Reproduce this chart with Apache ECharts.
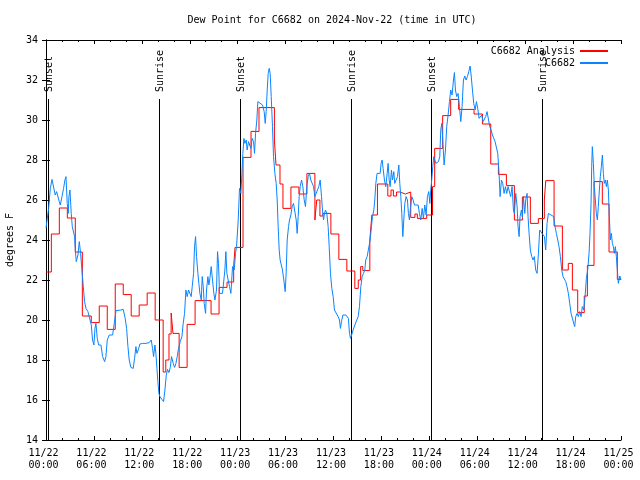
<!DOCTYPE html>
<html><head><meta charset="utf-8">
<script src="https://cdn.jsdelivr.net/npm/echarts@6/dist/echarts.min.js"></script>
<style>html,body{margin:0;padding:0;background:#fff}#c{width:640px;height:480px}</style>
</head><body><div id="c"></div>
<script>
const titleText = 'Dew Point for C6682 on 2024-Nov-22 (time in UTC)';
const yAxisName = 'degrees F';
const xTickLabels = ['11/22\n00:00','11/22\n06:00','11/22\n12:00','11/22\n18:00','11/23\n00:00','11/23\n06:00','11/23\n12:00','11/23\n18:00','11/24\n00:00','11/24\n06:00','11/24\n12:00','11/24\n18:00','11/25\n00:00'];
const seriesNames = ['C6682 Analysis', 'C6682'];
// hours since 11/22 00:00 UTC
const eventHours = [0.2, 14.16, 24.34, 38.21, 48.21, 62.16];
const eventNames = ['Sunset', 'Sunrise', 'Sunset', 'Sunrise', 'Sunset', 'Sunrise'];

const analysisHours = [0,0.67,1.67,2.67,3.67,4.55,5.67,6.67,7.67,8.67,9.67,10.67,11.67,12.67,13.67,14.67,15.0,15.4,15.67,15.9,16.67,17.67,18.67,20.67,21.67,22.67,23.5,23.67,24.67,25.67,26.67,28.6,28.8,29.3,29.67,30.67,31.67,32.67,33.67,33.9,34.3,34.67,35.67,36.67,37.67,38.67,39.1,39.4,39.67,40.55,40.8,41.5,42.8,43.2,43.5,43.9,44.3,45.0,45.67,46.2,46.5,47.67,48.4,48.67,49.67,50.67,51.67,53.6,54.65,55.69,56.65,57.65,58.65,59.65,60.65,61.65,62.4,62.58,63.62,64.66,65.4,65.91,66.58,67.4,67.79,68.62,69.66,70.5,71.54,72];
const analysisValues = [22.4,24.3,25.6,25.1,23.4,20.2,19.87,20.7,19.53,21.8,21.27,20.2,20.75,21.35,20.0,17.4,18.0,19.3,20.35,19.33,17.63,19.78,20.97,20.3,21.63,21.9,22.67,23.63,28.13,29.43,30.62,29.0,27.75,26.8,25.58,26.65,26.3,27.33,25.0,26.0,25.2,25.33,24.3,23.03,22.45,21.58,22.0,22.67,22.47,24.0,25.25,26.8,26.2,26.5,26.2,26.4,26.3,26.4,25.13,25.3,25.08,25.25,26.67,28.58,30.22,31.03,30.53,30.3,29.8,27.8,27.28,26.72,25.0,26.15,24.83,25.07,26.0,26.97,24.7,22.5,22.83,21.5,20.37,21.2,22.73,26.92,25.8,23.4,22.03,22.03];

const obsHours = [0,0.33,0.54,0.75,0.95,1.16,1.33,1.5,1.66,1.79,2.0,2.2,2.37,2.5,2.66,2.79,2.87,3.0,3.16,3.29,3.46,3.58,3.67,3.79,4.0,4.17,4.33,4.5,4.67,4.83,5.0,5.25,5.5,5.67,5.83,6.0,6.13,6.25,6.42,6.59,6.88,7.09,7.34,7.5,7.67,7.92,8.34,8.55,8.76,9.0,9.38,9.67,9.92,10.09,10.26,10.42,10.63,10.92,11.09,11.26,11.38,11.55,11.76,12.09,12.51,12.93,13.18,13.34,13.47,13.64,13.76,13.89,14.01,14.14,14.26,14.51,14.72,14.89,15.06,15.22,15.39,15.56,15.72,15.93,16.1,16.27,16.43,16.6,16.81,17.02,17.18,17.35,17.52,17.68,17.85,18.02,18.18,18.31,18.48,18.6,18.73,18.85,19.02,19.14,19.27,19.44,19.56,19.69,19.81,19.98,20.1,20.27,20.4,20.52,20.69,20.85,21.02,21.15,21.35,21.48,21.6,21.73,22.1,22.27,22.4,22.52,22.65,22.81,22.98,23.15,23.36,23.57,23.73,23.86,24.07,24.23,24.4,24.53,24.65,24.78,24.9,25.07,25.19,25.36,25.48,25.65,25.82,25.99,26.11,26.24,26.4,26.53,26.78,27.11,27.32,27.45,27.57,27.7,27.82,27.95,28.07,28.2,28.36,28.49,28.66,28.82,28.95,29.07,29.2,29.32,29.49,29.61,29.78,29.95,30.07,30.2,30.37,30.49,30.66,30.83,30.99,31.16,31.33,31.45,31.58,31.7,31.83,32.0,32.16,32.33,32.49,32.66,32.83,32.99,33.16,33.33,33.5,33.66,33.83,33.99,34.16,34.33,34.5,34.62,34.75,34.87,35.0,35.16,35.33,35.46,35.62,35.79,35.96,36.12,36.37,36.58,36.75,36.87,37.0,37.17,37.37,37.54,37.71,37.87,38.0,38.13,38.29,38.46,38.67,38.88,39.09,39.25,39.42,39.59,39.75,39.92,40.04,40.21,40.42,40.59,40.75,40.88,41.05,41.17,41.3,41.46,41.59,41.71,41.84,41.96,42.09,42.21,42.38,42.55,42.72,42.84,42.97,43.09,43.26,43.38,43.55,43.67,43.84,44.01,44.18,44.3,44.43,44.55,44.68,44.8,44.93,45.09,45.26,45.38,45.51,45.63,45.8,45.97,46.14,46.39,46.6,46.76,46.93,47.1,47.26,47.43,47.6,47.76,47.93,48.06,48.18,48.3,48.43,48.56,48.68,48.81,48.97,49.14,49.31,49.43,49.56,49.68,49.85,50.02,50.18,50.35,50.52,50.68,50.85,51.02,51.14,51.27,51.43,51.6,51.77,51.94,52.1,52.27,52.44,52.6,52.77,52.94,53.1,53.23,53.4,53.56,53.73,53.9,54.06,54.23,54.4,54.56,54.73,54.9,55.06,55.23,55.4,55.56,55.73,55.9,56.07,56.23,56.4,56.57,56.73,56.86,57.03,57.19,57.36,57.53,57.69,57.86,58.03,58.19,58.36,58.53,58.65,58.82,58.99,59.11,59.24,59.36,59.53,59.65,59.78,59.95,60.07,60.24,60.36,60.49,60.65,60.82,60.99,61.15,61.32,61.49,61.66,61.82,61.99,62.11,62.24,62.41,62.57,62.74,62.91,63.07,63.24,63.41,63.57,63.74,63.91,64.08,64.24,64.41,64.58,64.74,64.91,65.08,65.24,65.41,65.58,65.75,65.91,66.08,66.2,66.33,66.5,66.66,66.83,67.0,67.16,67.33,67.5,67.66,67.83,68.0,68.12,68.25,68.33,68.41,68.54,68.66,68.79,68.91,69.04,69.16,69.29,69.41,69.54,69.67,69.79,69.91,70.04,70.17,70.29,70.42,70.54,70.67,70.79,70.92,71.04,71.17,71.29,71.42,71.54,71.67,71.85,72.0];
const obsValues = [24.6,25.58,26.58,27.03,27.0,26.25,26.42,26.5,25.92,25.75,26.17,26.58,27.0,27.17,25.83,25.33,26.17,26.5,25.33,24.67,24.67,24.17,23.5,22.92,23.25,23.92,23.33,22.5,21.67,20.92,20.58,20.42,20.37,19.75,19.0,18.75,19.58,19.83,19.08,18.75,18.75,18.17,17.92,18.17,19.0,19.25,19.25,19.83,20.47,20.53,20.5,20.53,20.08,19.58,18.67,18.0,17.63,17.58,18.08,18.67,18.33,18.5,18.8,18.83,18.83,18.87,19.0,18.58,18.17,18.75,18.33,17.58,16.92,16.33,16.17,16.03,15.92,16.5,17.25,17.53,17.37,17.63,18.17,17.83,17.63,17.83,18.17,18.58,18.92,19.17,19.83,20.33,21.5,21.17,21.5,21.58,21.17,21.67,22.33,23.67,24.17,23.17,22.33,21.83,21.33,21.0,22.17,21.67,20.83,20.33,21.5,22.17,21.75,22.08,22.67,22.0,21.33,21.0,21.5,23.42,22.83,21.33,21.33,21.33,22.5,23.42,22.33,22.0,21.67,21.33,22.67,22.5,23.33,23.67,25.0,26.58,26.33,27.33,28.33,29.08,28.83,29.0,28.5,28.92,29.0,28.58,29.08,28.92,28.33,29.33,30.0,30.92,30.83,30.75,30.42,29.83,30.42,31.5,32.33,32.58,32.33,31.17,29.67,28.17,27.33,26.83,26.0,24.67,23.5,23.0,23.0,22.5,22.0,21.42,22.33,24.0,24.67,25.0,25.25,25.67,25.83,25.75,25.0,24.33,25.17,26.17,26.67,27.0,26.67,26.0,25.67,26.67,27.17,27.33,27.0,27.0,26.67,26.17,26.33,26.5,26.67,27.0,26.17,25.5,25.0,25.33,25.5,25.33,24.67,23.67,22.33,21.58,21.17,20.5,20.42,20.17,20.0,19.58,19.92,20.25,20.33,20.25,20.33,20.08,19.33,19.08,19.0,19.5,19.75,19.67,20.17,20.67,21.67,22.17,22.33,22.5,23.0,23.17,23.17,24.0,24.67,25.17,25.5,26.0,26.83,27.33,27.42,27.33,27.33,27.83,28.0,27.58,27.0,26.67,27.33,27.83,27.0,26.67,27.5,27.0,27.42,26.83,27.0,27.17,27.75,26.83,26.17,25.33,24.17,25.0,25.83,26.17,26.0,25.33,25.0,25.58,26.17,26.0,25.75,25.75,25.75,25.33,25.0,25.58,25.08,25.75,25.25,26.17,26.42,25.83,26.5,27.0,27.67,28.17,28.08,27.83,27.75,27.92,28.17,29.5,29.83,29.0,27.75,28.5,29.67,30.25,30.92,31.5,31.25,32.0,32.37,31.5,31.17,31.33,30.67,29.92,30.67,32.0,32.2,32.0,32.17,32.42,32.7,32.25,31.5,30.83,30.5,30.92,30.58,30.08,30.17,30.25,29.92,30.0,30.17,30.42,30.5,29.67,29.5,29.25,29.08,28.92,29.0,28.33,27.33,26.17,27.0,26.83,26.33,26.67,26.33,26.67,26.58,26.17,26.67,25.5,25.33,26.33,25.67,24.67,24.17,25.17,25.5,25.17,26.17,25.33,26.0,26.33,25.17,24.33,23.5,23.17,23.0,23.17,22.5,22.33,23.33,24.5,24.5,24.33,24.33,24.17,23.5,24.83,25.33,25.42,25.25,25.33,25.17,24.67,24.33,24.0,23.67,23.17,22.5,22.17,22.08,21.92,21.67,21.33,20.83,20.33,20.42,19.83,19.67,20.17,20.33,20.17,20.42,20.17,20.67,20.5,21.17,22.08,22.5,23.33,24.33,25.83,27.67,28.67,27.83,26.67,26.0,25.33,25.0,25.67,26.5,27.17,27.67,28.25,27.33,26.83,27.0,26.67,27.0,26.5,25.17,24.0,24.33,23.83,23.67,23.33,23.67,23.17,22.5,21.83,22.2,22.0];

const FONT = "'DejaVu Sans Mono', monospace";
const txt = {fontFamily: FONT, fontSize: 10, color: '#000'};
const zip = (a, b) => a.map((v, i) => [v, b[i]]);

const chart = echarts.init(document.getElementById('c'), null, {renderer: 'canvas'});
const xCommon = {
  type: 'value', min: 0, max: 72, interval: 6,
  axisLine: {show: true, lineStyle: {color: '#000', width: 1}},
  axisTick: {show: true, inside: true, length: 4, lineStyle: {color: '#000'}},
  minorTick: {show: true, splitNumber: 3, length: 2, lineStyle: {color: '#000'}},
  splitLine: {show: false}
};
const yCommon = {
  type: 'value', min: 14, max: 34, interval: 2,
  axisLine: {show: true, lineStyle: {color: '#000', width: 1}},
  axisTick: {show: true, inside: true, length: 4, lineStyle: {color: '#000'}},
  splitLine: {show: false}
};
chart.setOption({
  animation: false,
  backgroundColor: '#fff',
  title: {text: titleText, left: 327, top: 10, textAlign: 'center',
    textStyle: Object.assign({}, txt, {fontWeight: 'normal'})},
  legend: {
    data: seriesNames, orient: 'vertical', right: 31, top: 46, align: 'right', padding: 0,
    itemWidth: 28, itemHeight: 10, itemGap: 2, textStyle: txt, selectedMode: false,
    itemStyle: {opacity: 0}
  },
  grid: {left: 46, right: 19, top: 40, bottom: 40, outerBoundsMode: 'none', containLabel: false},
  xAxis: [
    Object.assign({}, xCommon, {position: 'bottom',
      axisLabel: Object.assign({}, txt, {lineHeight: 12, margin: 7, padding: [0, 5, 0, 0],
        formatter: v => xTickLabels[Math.round(v / 6)]})}),
    Object.assign({}, xCommon, {position: 'top', axisLabel: {show: false}})
  ],
  yAxis: [
    Object.assign({}, yCommon, {position: 'left', name: yAxisName, nameLocation: 'middle',
      nameRotate: 90, nameGap: 31, nameTextStyle: txt,
      axisLabel: Object.assign({}, txt, {margin: 8})}),
    Object.assign({}, yCommon, {position: 'right', axisLabel: {show: false}})
  ],
  series: [
    {
      type: 'custom', name: 'events', silent: true, clip: false, z: 1,
      data: eventHours.map((h, i) => [h, i]),
      renderItem: (params, api) => {
        const p = api.coord([api.value(0), 14]);
        const x = Math.round(p[0]) + 0.5;
        const top = params.coordSys.y;
        return {type: 'group', children: [
          {type: 'line', shape: {x1: x, y1: top + 59, x2: x, y2: p[1]},
            style: {stroke: '#000', lineWidth: 1}},
          {type: 'text', x: x + 0.5, y: top + 52, rotation: Math.PI / 2,
            style: {text: eventNames[api.value(1)], font: '10px ' + FONT, fill: '#000',
              align: 'left', verticalAlign: 'middle'}}
        ]};
      }
    },
    {
      type: 'line', name: seriesNames[0], data: zip(analysisHours, analysisValues),
      step: 'end', symbol: 'none', color: '#ff0000',
      lineStyle: {color: '#ff0000', width: 1}, z: 2
    },
    {
      type: 'line', name: seriesNames[1], data: zip(obsHours, obsValues),
      symbol: 'none', color: '#0a84ff',
      lineStyle: {color: '#0a84ff', width: 1}, z: 3
    }
  ]
});
</script></body></html>
